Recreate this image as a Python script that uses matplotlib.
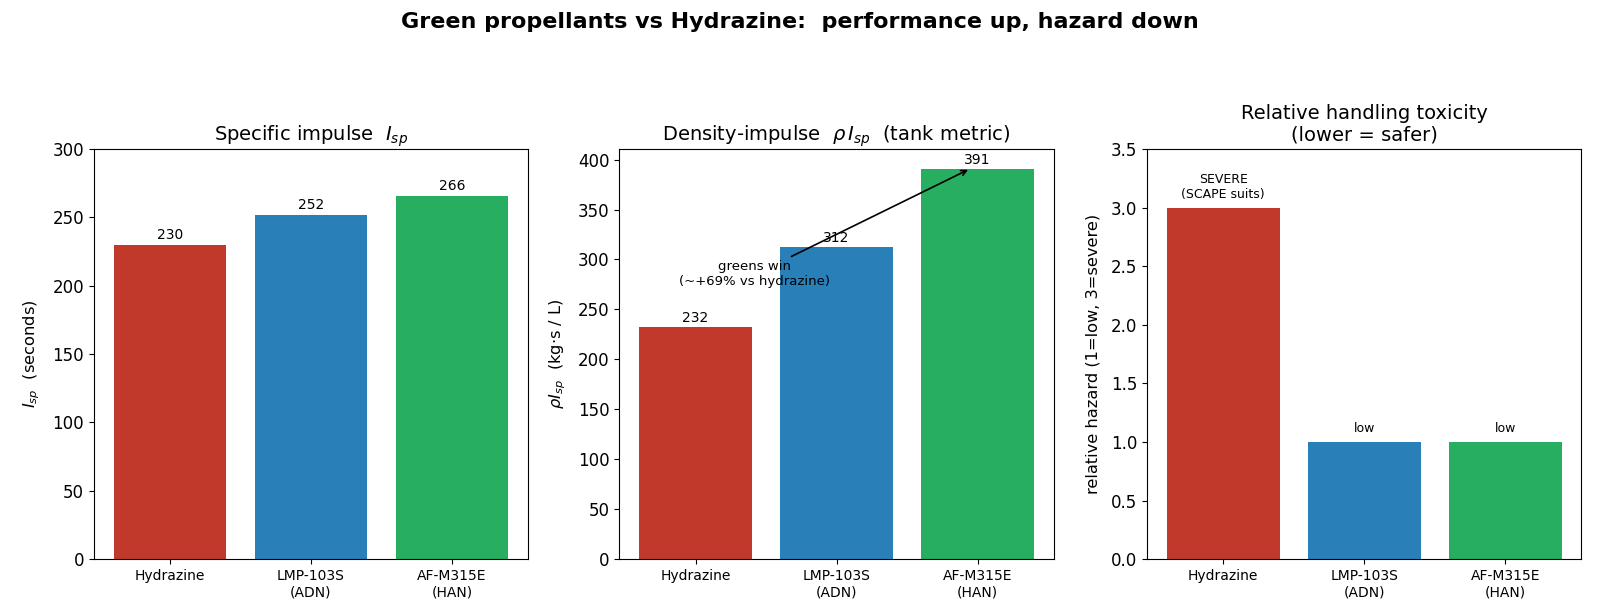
import matplotlib
matplotlib.use("Agg")
import matplotlib.pyplot as plt

categories = ["Hydrazine", "LMP-103S\n(ADN)", "AF-M315E\n(HAN)"]
colors = ["#c0392b", "#2980b9", "#27ae60"]
isp = [230, 252, 266]
rho_isp = [232, 312, 391]
hazard = [3, 1, 1]
hazard_labels = ["SEVERE\n(SCAPE suits)", "low", "low"]

fig = plt.figure(figsize=(16, 6.15), dpi=100)
w = 0.2715
bottom, height = 0.0907, 0.667
ax1 = fig.add_axes([0.0586, bottom, w, height])
ax2 = fig.add_axes([0.3871, bottom, w, height])
ax3 = fig.add_axes([0.7169, bottom, w, height])

x = range(len(categories))
lp = 7.5

# Panel 1
ax1.bar(x, isp, color=colors)
for xi, v in zip(x, isp):
    ax1.text(xi, v + 2, f"{v}", ha="center", va="bottom", fontsize=10)
ax1.set_ylim(0, 300)
ax1.set_title("Specific impulse  $I_{sp}$", fontsize=14)
ax1.set_ylabel("$I_{sp}$  (seconds)", fontsize=11.7, labelpad=lp)

# Panel 2
ax2.bar(x, rho_isp, color=colors)
for xi, v in zip(x, rho_isp):
    ax2.text(xi, v + 2, f"{v}", ha="center", va="bottom", fontsize=10)
ax2.set_title(r"Density-impulse  $\rho\, I_{sp}$  (tank metric)", fontsize=14)
ax2.set_ylabel(r"$\rho I_{sp}$  (kg·s / L)", fontsize=11.7, labelpad=lp)
ax2.annotate("greens win\n(~+69% vs hydrazine)", xy=(1.95, rho_isp[2]),
             xytext=(0.42, 285), ha="center", va="center", fontsize=9.5,
             arrowprops=dict(arrowstyle="->", color="black", lw=1.2))

# Panel 3
ax3.bar(x, hazard, color=colors)
for xi, v, lab in zip(x, hazard, hazard_labels):
    ax3.text(xi, v + 0.06, lab, ha="center", va="bottom", fontsize=9)
ax3.set_ylim(0, 3.5)
ax3.set_title("Relative handling toxicity\n(lower = safer)", fontsize=14)
ax3.set_ylabel("relative hazard (1=low, 3=severe)", fontsize=11.7, labelpad=lp)

for ax in (ax1, ax2, ax3):
    ax.set_xticks(list(x))
    ax.set_xticklabels(categories, fontsize=10)
    ax.tick_params(axis="y", labelsize=12)

fig.suptitle("Green propellants vs Hydrazine:  performance up, hazard down",
             fontsize=16, fontweight="bold", y=0.964, va="center")

fig.savefig("out.png", dpi=100)
